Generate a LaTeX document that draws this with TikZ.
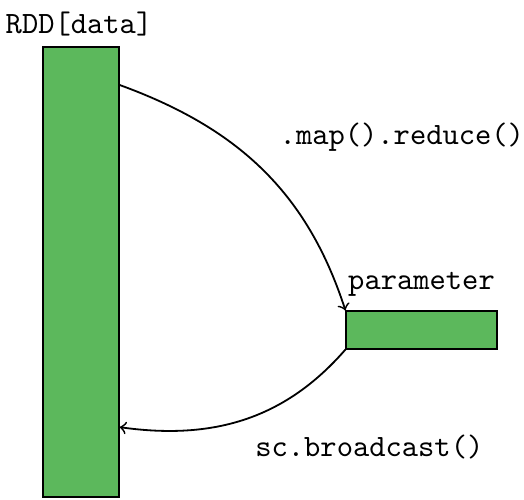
\documentclass[tikz,border=0pt]{standalone}
\usepackage{tikz}
\usetikzlibrary{positioning}
\definecolor{colData}{HTML}{5CB85C}

\begin{document}
\begin{tikzpicture}[
		font=\ttfamily\fontsize{10.3pt}{12pt}\selectfont,
		% Node Styles
		block/.style={draw, fill=colData, rectangle, inner sep=0pt},
		lbl/.style={inner sep=1pt},
		arrow/.style={->, semithick}
		]
		\useasboundingbox (0,0) rectangle (6.115,5.835);
		
		%% blocks
		\node[block, minimum width=0.887cm, minimum height=5.25cm] (data) at (0.946,2.661) {};
		\node[block, minimum width=1.762cm, minimum height=0.443cm] (param) at (4.919,1.984) {};
		
		%% labels
		\node[lbl] (datalbl) at (0.922,5.56) {RDD[data]};
		\node[lbl, above=0.12cm of param.north] (paramlbl) {parameter};
		\node[lbl] (reducelbl) at (4.69,4.23) {.map().reduce()};
		\node[lbl] (bcastlbl) at (4.31,0.62) {sc.broadcast()};
		
		%% edges
		\draw[arrow] (data.east |- 0,4.843) to[out=-20, in=108] (param.north west);
		\draw[arrow] (param.south west) to[out=-131, in=-8] (data.east |- 0,0.85);
		
	\end{tikzpicture}
\end{document}
